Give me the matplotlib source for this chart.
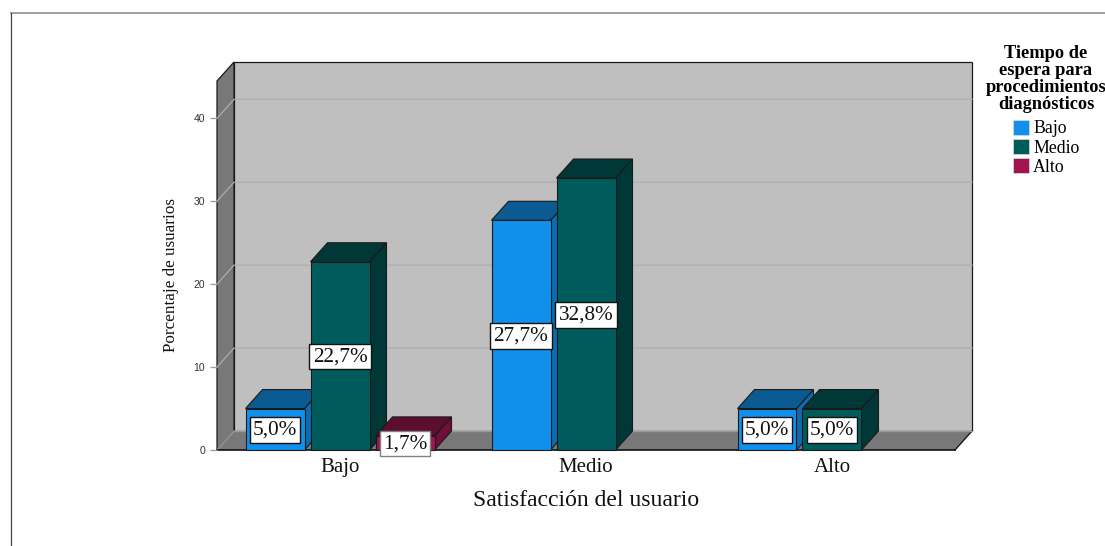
import matplotlib
matplotlib.use("Agg")
import matplotlib.pyplot as plt
from matplotlib.patches import Polygon, Patch
from matplotlib.lines import Line2D

# Chart data: percentage of users per satisfaction level and waiting-time group
categories = ["Bajo", "Medio", "Alto"]
series_names = ["Bajo", "Medio", "Alto"]
valores_bajo = [5.0, 27.7, 5.0]
valores_medio = [22.7, 32.8, 5.0]
valores_alto = [1.7, None, None]
y_ticks = [0, 10, 20, 30, 40]

FW, FH = 1105, 546
SERIF = "Liberation Serif"
SANS = "Liberation Sans"

# colour triples: front face, top face, side face
estilos = [("#1090EA", "#0B5A92", "#0B6CB2"),
           ("#005C5C", "#003737", "#003737"),
           ("#A01450", "#5C0E30", "#700F3A")]

fig = plt.figure(figsize=(FW / 100, FH / 100), dpi=100, facecolor="white")
ax = fig.add_axes([217 / FW, 1 - 450 / FH, 738 / FW, 369 / FH])
ax.set_xlim(-0.5, 2.5)
ax.set_ylim(0, 44.5)
ax.patch.set_visible(False)
for s in ax.spines.values():
    s.set_visible(False)

# oblique projection offset of the 3D box, in data units
dx, dy = 17 / 246, 19 / 8.292
x0, x1, y1 = -0.5, 2.5, 44.5
GRIS_PARED = "#BFBFBF"
GRIS_LADO = "#787878"


def poly(pts, fc, ec="#1a1a1a", lw=0.9, z=1):
    ax.add_patch(Polygon(pts, closed=True, facecolor=fc, edgecolor=ec,
                         linewidth=lw, zorder=z, clip_on=False))


# back wall, left wall and floor
poly([(x0 + dx, dy), (x1 + dx, dy), (x1 + dx, y1 + dy), (x0 + dx, y1 + dy)], GRIS_PARED, z=1)
poly([(x0, 0), (x0 + dx, dy), (x0 + dx, y1 + dy), (x0, y1)], GRIS_LADO, z=1.1)
poly([(x0, 0), (x1, 0), (x1 + dx, dy), (x0 + dx, dy)], GRIS_LADO, ec="none", z=1.1)
ax.plot([x1, x1 + dx], [0, dy], color="#1a1a1a", lw=1, zorder=1.2, clip_on=False)
ax.plot([x0 + dx, x1 + dx], [dy, dy], color="#9a9a9a", lw=1, zorder=1.2, clip_on=False)
ax.plot([x0, x0 + dx], [0, dy], color="#9a9a9a", lw=1, zorder=1.2, clip_on=False)
ax.plot([x0, x1], [0, 0], color="#111111", lw=1.2, zorder=1.3, clip_on=False)

# gridlines running across both walls
for t in y_ticks[1:]:
    ax.plot([x0, x0 + dx, x1 + dx], [t, t + dy, t + dy], color="#AEAEAE", lw=0.9,
            zorder=1.5, clip_on=False)

ancho = 59 / 246
paso = 65 / 246
series = [valores_bajo, valores_medio, valores_alto]
z = 2.0
etiquetas = []
for i in range(len(categories)):
    for j, vals in enumerate(series):
        v = vals[i]
        if v is None:
            continue
        izq = i + (j - 1) * paso - ancho / 2
        der = izq + ancho
        front, top, side = estilos[j]
        poly([(der, 0), (der + dx, dy), (der + dx, v + dy), (der, v)], side, z=z, lw=0.8)
        poly([(izq, v), (der, v), (der + dx, v + dy), (izq + dx, v + dy)], top, z=z, lw=0.8)
        poly([(izq, 0), (der, 0), (der, v), (izq, v)], front, z=z + 0.01, lw=0.8)
        z += 0.1
        etiquetas.append(((izq + der) / 2, v))

# value labels in white boxes centred on each bar's front face
for xc, v in etiquetas:
    borde = "#808080" if v < 2 else "#111111"
    ax.text(xc, v / 2 - 0.1, f"{v:.1f}%".replace(".", ","), family=SERIF, fontsize=15.3,
            ha="center", va="center", color="#111111", zorder=10, clip_on=False,
            bbox=dict(boxstyle="square,pad=0.15", facecolor="white", edgecolor=borde, linewidth=1))

# axes ticks and labels
ax.set_yticks(y_ticks)
ax.set_yticklabels([str(t) for t in y_ticks], family=SANS, fontsize=7.5, color="#333333")
ax.tick_params(axis="y", length=5, width=1, color="#A0A0A0", pad=3.6)
ax.set_xticks(range(len(categories)))
ax.set_xticklabels(categories, family=SERIF, fontsize=15, color="#111111")
ax.tick_params(axis="x", length=0, pad=5.5)

fig.text(586 / FW, 1 - 501 / FH, "Satisfacción del usuario", family=SERIF, fontsize=17,
         ha="center", va="center", color="#111111")
fig.text(171 / FW, 1 - 275 / FH, "Porcentaje de usuarios", family=SERIF, fontsize=12.3,
         rotation=90, ha="center", va="center", color="#111111")

# legend beside the plot
handles = [Patch(facecolor=estilos[k][0], edgecolor="#dddddd", linewidth=0.5, label=series_names[k])
           for k in range(3)]
leg = fig.legend(handles=handles, title="Tiempo de\nespera para\nprocedimientos\ndiagnósticos",
                 loc="upper center", bbox_to_anchor=(1046 / FW, 1 - 33 / FH), frameon=False,
                 prop={"family": SERIF, "size": 12.8}, labelspacing=0.1, handlelength=0.9,
                 handleheight=0.9, handletextpad=0.25, borderpad=0.2, alignment="center",
                 title_fontproperties={"family": SERIF, "weight": "bold", "size": 13.2})
leg.get_title().set_linespacing(1.0)
leg.get_title().set_multialignment("center")
leg._legend_box.sep = 4.6

# thin frame at the top and left of the figure
fig.add_artist(Line2D([10.5 / FW, 1], [1 - 12.5 / FH, 1 - 12.5 / FH], color="#999999", lw=1.3))
fig.add_artist(Line2D([10.5 / FW, 10.5 / FW], [0, 1 - 12.5 / FH], color="#444444", lw=0.9))

fig.savefig("out.png", dpi=100)
